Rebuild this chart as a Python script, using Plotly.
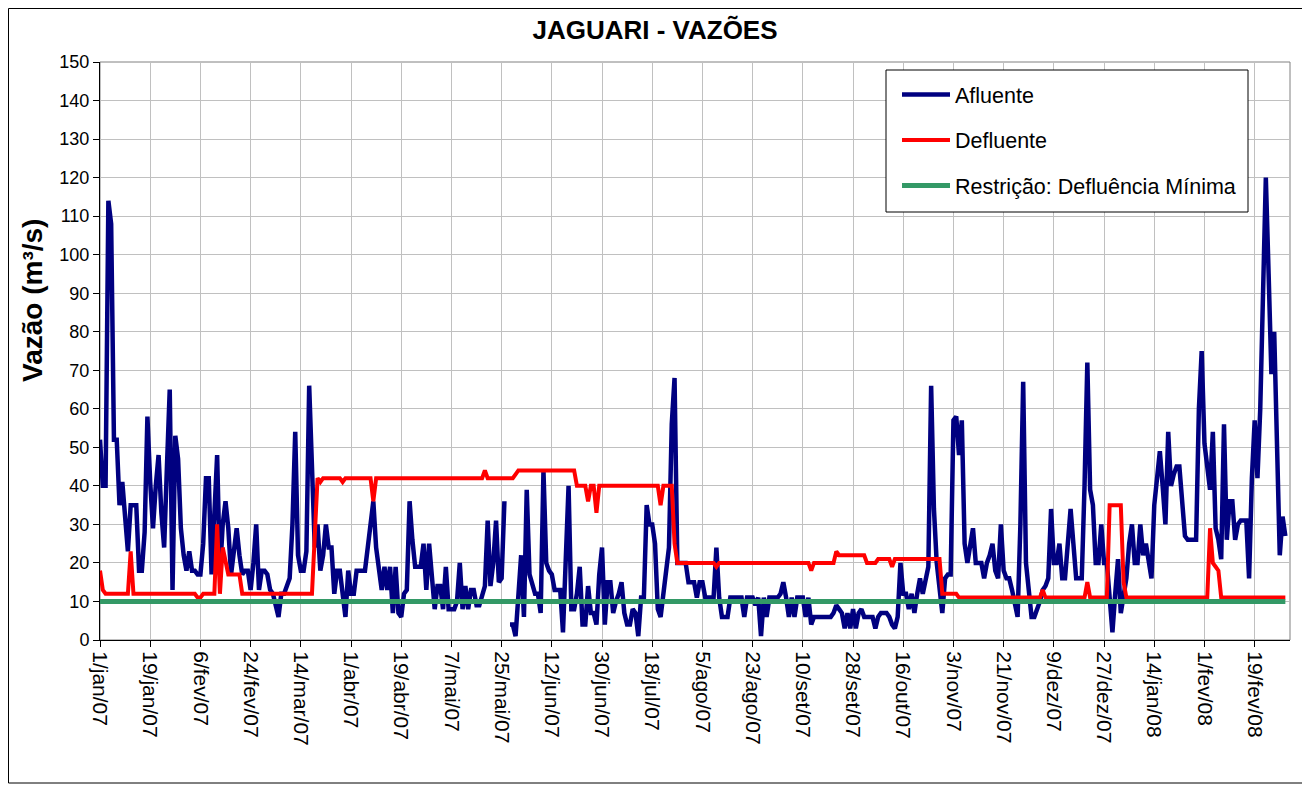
import pandas as pd
import plotly.graph_objects as go

# Daily flows from 1/jan/07 (m3/s)
afluente = [
    52, 40, 40, 114, 108, 52, 52, 35, 41, 30,
    23, 35, 35, 35, 18, 18, 28, 58, 41, 29,
    40, 48, 33, 24, 45, 65, 13, 53, 47, 29,
    22, 18, 23, 18, 18, 17, 17, 25, 42, 42,
    17, 30, 48, 17, 30, 36, 29, 17, 22, 29,
    22, 17, 18, 18, 13, 20, 30, 13, 18, 18,
    17, 13, 12, 9, 6, 12, 12, 14, 16, 30,
    54, 22, 18, 18, 23, 66, 41, 24, 30, 18,
    22, 30, 24, 24, 12, 18, 18, 12, 6, 18,
    12, 12, 18, 18, 18, 18, 24, 30, 36, 24,
    18, 13, 19, 13, 19, 7, 19, 7, 6, 12,
    13, 36, 26, 19, 19, 19, 25, 13, 25, 15,
    8, 14, 14, 8, 19, 8, 8, 8, 10, 20,
    8, 14, 8, 13, 13, 9, 9, 12, 14, 31,
    14, 20, 31, 15, 16, 36, None, 4, 4, 1,
    12, 22, 6, 39, 17, 14, 12, 12, 7, 44,
    20, 18, 17, 13, 13, 13, 2, 22, 40, 8,
    8, 12, 19, 4, 4, 14, 7, 7, 4, 17,
    24, 4, 15, 15, 7, 10, 12, 15, 7, 4,
    4, 8, 7, 1, 11, 11, 35, 30, 30, 25,
    8, 6, 12, 16, 24, 56, 68, 20, 20, 20,
    20, 15, 15, 15, 11, 15, 15, 11, 11, 11,
    11, 24, 11, 6, 6, 6, 11, 11, 11, 11,
    11, 6, 11, 11, 11, 9, 11, 1, 11, 6,
    11, 11, 11, 11, 12, 15, 11, 6, 11, 6,
    11, 11, 11, 6, 11, 4, 6, 6, 6, 6,
    6, 6, 6, 7, 9, 8, 7, 3, 7, 3,
    8, 3, 7, 8, 6, 6, 6, 6, 3, 6,
    7, 7, 7, 6, 4, 3, 6, 20, 12, 12,
    8, 12, 7, 12, 16, 12, 16, 19, 66, 34,
    20, 12, 7, 16, 17, 17, 57, 58, 48, 57,
    25, 20, 25, 29, 20, 20, 20, 16, 20, 22,
    25, 18, 16, 30, 18, 16, 16, 13, 10, 6,
    30, 67, 20, 13, 6, 6, 8, 10, 13, 14,
    16, 34, 20, 20, 25, 16, 16, 25, 34, 25,
    16, 16, 16, 40, 72, 39, 35, 20, 20, 30,
    20, 20, 10, 2, 12, 21, 7, 12, 16, 25,
    30, 20, 20, 30, 22, 25, 20, 16, 35, 42,
    49, 40, 30, 54, 40, 43, 45, 45, 35, 27,
    26, 26, 26, 26, 60, 75, 51, 45, 39, 54,
    29, 26, 21, 56, 26, 36, 36, 26, 30, 31,
    31, 31, 16, 42, 57, 42, 60, 90, 120, 95,
    69, 80, 50, 22, 32, 27,
]

defluente = [
    18, 13, 12, 12, 12, 12, 12, 12, 12, 12,
    12, 23, 12, 12, 12, 12, 12, 12, 12, 12,
    12, 12, 12, 12, 12, 12, 12, 12, 12, 12,
    12, 12, 12, 12, 12, 11, 11, 12, 12, 12,
    12, 12, 30, 12, 24, 20, 17, 17, 17, 17,
    17, 12, 12, 12, 12, 12, 12, 12, 12, 12,
    12, 12, 12, 12, 12, 12, 12, 12, 12, 12,
    12, 12, 12, 12, 12, 12, 12, 27, 42, 41,
    42, 42, 42, 42, 42, 42, 42, 41, 42, 42,
    42, 42, 42, 42, 42, 42, 42, 42, 36, 42,
    42, 42, 42, 42, 42, 42, 42, 42, 42, 42,
    42, 42, 42, 42, 42, 42, 42, 42, 42, 42,
    42, 42, 42, 42, 42, 42, 42, 42, 42, 42,
    42, 42, 42, 42, 42, 42, 42, 42, 44, 42,
    42, 42, 42, 42, 42, 42, 42, 42, 42, 43,
    44, 44, 44, 44, 44, 44, 44, 44, 44, 44,
    44, 44, 44, 44, 44, 44, 44, 44, 44, 44,
    44, 40, 40, 40, 40, 36, 40, 40, 33, 40,
    40, 40, 40, 40, 40, 40, 40, 40, 40, 40,
    40, 40, 40, 40, 40, 40, 40, 40, 40, 40,
    40, 35, 40, 40, 40, 40, 25, 20, 20, 20,
    20, 20, 20, 20, 20, 20, 20, 20, 20, 20,
    20, 19, 20, 20, 20, 20, 20, 20, 20, 20,
    20, 20, 20, 20, 20, 20, 20, 20, 20, 20,
    20, 20, 20, 20, 20, 20, 20, 20, 20, 20,
    20, 20, 20, 20, 20, 18, 20, 20, 20, 20,
    20, 20, 20, 20, 23, 22, 22, 22, 22, 22,
    22, 22, 22, 22, 22, 20, 20, 20, 20, 21,
    21, 21, 21, 21, 19, 21, 21, 21, 21, 21,
    21, 21, 21, 21, 21, 21, 21, 21, 21, 21,
    21, 21, 12, 12, 12, 12, 12, 12, 11, 11,
    11, 11, 11, 11, 11, 11, 11, 11, 11, 11,
    11, 11, 11, 11, 11, 11, 11, 11, 11, 11,
    11, 11, 11, 11, 11, 11, 11, 11, 13, 11,
    11, 11, 11, 11, 11, 11, 11, 11, 11, 11,
    11, 11, 11, 11, 15, 11, 11, 11, 11, 11,
    11, 11, 35, 35, 35, 35, 35, 15, 11, 11,
    11, 11, 11, 11, 11, 11, 11, 11, 11, 11,
    11, 11, 11, 11, 11, 11, 11, 11, 11, 11,
    11, 11, 11, 11, 11, 11, 11, 11, 29, 20,
    19, 18, 11, 11, 11, 11, 11, 11, 11, 11,
    11, 11, 11, 11, 11, 11, 11, 11, 11, 11,
    11, 11, 11, 11, 11, 11,
]

RESTRICAO_MINIMA = 10  # defluência mínima (m3/s)

tick_labels = [
    "1/jan/07", "19/jan/07", "6/fev/07", "24/fev/07", "14/mar/07", "1/abr/07",
    "19/abr/07", "7/mai/07", "25/mai/07", "12/jun/07", "30/jun/07", "18/jul/07",
    "5/ago/07", "23/ago/07", "10/set/07", "28/set/07", "16/out/07", "3/nov/07",
    "21/nov/07", "9/dez/07", "27/dez/07", "14/jan/08", "1/fev/08", "19/fev/08",
]

datas = pd.date_range("2007-01-01", periods=len(afluente), freq="D")
tick_vals = pd.date_range("2007-01-01", periods=len(tick_labels), freq="18D")

FONT = "Arial, Liberation Sans, sans-serif"

# figure geometry (page has an 8px body margin)
W, H = 1302, 777
ML, MT, PW, PH = 92, 54, 1190, 578
MR = W - ML - PW
MB = H - MT - PH


def px(fx):
    return (fx - ML) / PW


def py(fy):
    return (MT + PH - fy) / PH


fig = go.Figure()
fig.add_trace(go.Scatter(x=datas, y=afluente, mode="lines", name="Afluente",
                         legendgroup="a", connectgaps=False,
                         line=dict(color="#000080", width=4.5)))
fig.add_trace(go.Scatter(x=datas, y=defluente, mode="lines", name="Defluente",
                         legendgroup="b",
                         line=dict(color="#FF0000", width=4)))
fig.add_trace(go.Scatter(x=datas, y=[RESTRICAO_MINIMA] * len(datas), mode="lines",
                         name="Restrição: Defluência Mínima", legendgroup="c",
                         line=dict(color="#339966", width=5)))

fig.update_layout(
    width=W, height=H,
    margin=dict(l=ML, r=MR, t=MT, b=MB, autoexpand=False),
    paper_bgcolor="white", plot_bgcolor="white",
    font=dict(family=FONT, color="black"),
    title=dict(text="<b>JAGUARI - VAZÕES</b>", x=647 / W, xanchor="center",
               y=1 - 22 / H, yanchor="middle", font=dict(size=26, family=FONT)),
    showlegend=True,
    legend=dict(x=px(889), y=py(66), xanchor="left", yanchor="top",
                bgcolor="rgba(0,0,0,0)", borderwidth=0,
                font=dict(size=21.5, family=FONT), tracegroupgap=14.5,
                itemwidth=48),
    xaxis=dict(type="date", range=[datas[0], pd.Timestamp("2008-03-02 16:00")],
               tickmode="array", tickvals=tick_vals, ticktext=tick_labels,
               tickangle=90, tickfont=dict(size=21, family=FONT),
               showgrid=True, gridcolor="#C0C0C0", gridwidth=1,
               showline=True, linecolor="black", linewidth=1,
               ticks="outside", ticklen=6, tickcolor="black", zeroline=False),
    yaxis=dict(range=[0, 150], dtick=10, tickfont=dict(size=18, family=FONT),
               showgrid=True, gridcolor="#C0C0C0", gridwidth=1,
               showline=True, linecolor="black", linewidth=1,
               ticks="outside", ticklen=6, tickcolor="black", zeroline=False),
    annotations=[dict(text="<b>Vazão (m³/s)</b>", textangle=-90,
                      x=px(24), y=py(293),
                      xref="paper", yref="paper", showarrow=False,
                      xanchor="center", yanchor="middle",
                      font=dict(size=28, family=FONT))],
    shapes=[
        dict(type="rect", xref="paper", yref="paper", x0=0, x1=1, y0=0, y1=1,
             line=dict(color="#808080", width=1), layer="below"),
        dict(type="rect", xref="paper", yref="paper",
             x0=px(0.5), x1=px(1297), y0=py(775), y1=py(0.5),
             line=dict(color="#000000", width=1)),
        # legend box
        dict(type="rect", xref="paper", yref="paper",
             x0=px(878), x1=px(1240), y0=py(204), y1=py(62),
             fillcolor="white", line=dict(color="#000000", width=1),
             layer="above"),
    ],
)

fig.write_html("out.html")
